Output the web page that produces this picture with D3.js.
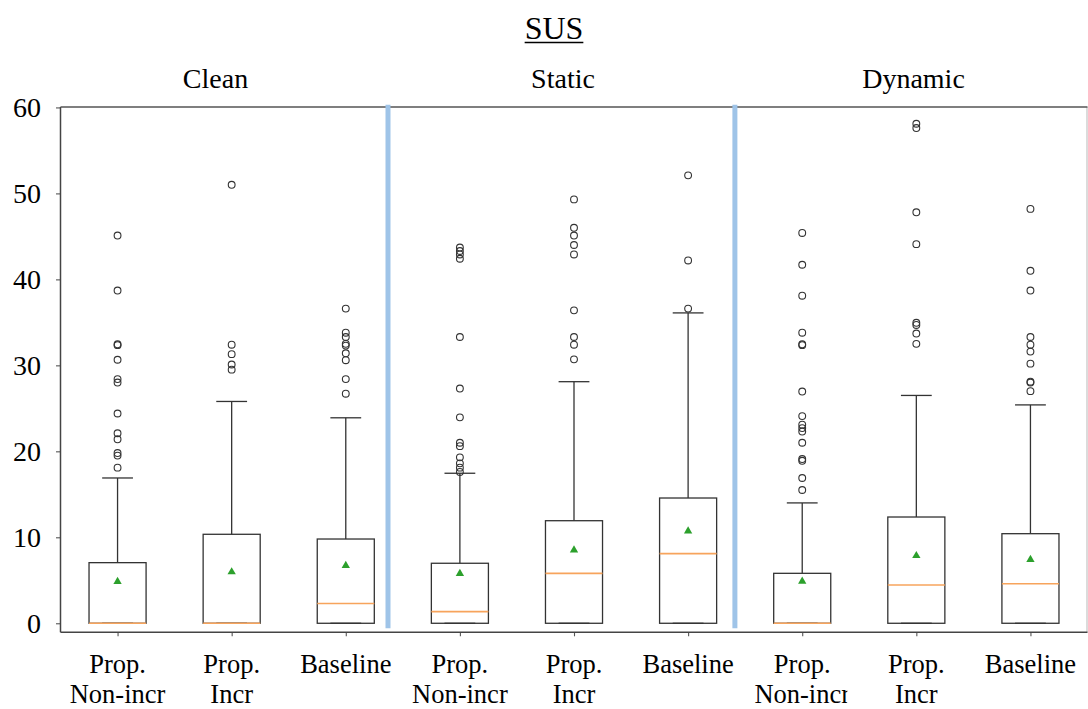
<!DOCTYPE html>
<html>
<head>
<meta charset="utf-8">
<script src="https://cdn.jsdelivr.net/npm/d3@7"></script>
<style>
  html, body { margin: 0; padding: 0; background: #fff; }
  svg { display: block; }
</style>
</head>
<body>
<svg id="chart" width="1088" height="709"></svg>
<script>
// ---- data -------------------------------------------------------------
const title = "SUS";
const groups = ["Clean", "Static", "Dynamic"];
const methods = [["Prop.", "Non-incr"], ["Prop.", "Incr"], ["Baseline"]];
const yTicks = [0, 10, 20, 30, 40, 50, 60];

// one entry per box: Clean x3, Static x3, Dynamic x3
const q1 = [0, 0, 0, 0, 0, 0, 0, 0, 0];
const medians = [0, 0, 2.3, 1.35, 5.8, 8.1, 0, 4.45, 4.6];
const q3 = [7.05, 10.35, 9.8, 6.98, 11.93, 14.57, 5.81, 12.36, 10.42];
const whiskerLow = [0, 0, 0, 0, 0, 0, 0, 0, 0];
const whiskerHigh = [16.9, 25.8, 23.9, 17.45, 28.1, 36.1, 14.0, 26.5, 25.4];
const means = [4.84, 5.97, 6.7, 5.77, 8.52, 10.73, 4.88, 7.86, 7.4];
const outliers = [
  [45.1, 38.7, 32.45, 32.35, 30.65, 28.4, 28.0, 24.4, 22.1, 21.4, 19.8, 19.5, 18.1],
  [51.0, 32.4, 31.3, 30.1, 29.5],
  [36.6, 33.8, 33.3, 32.5, 32.3, 31.4, 30.6, 28.4, 26.7],
  [43.7, 43.3, 42.9, 42.4, 33.3, 27.3, 23.95, 21.0, 20.6, 19.3, 18.6, 18.1, 17.6],
  [49.3, 46.0, 45.1, 44.0, 42.9, 36.4, 33.3, 32.4, 30.7],
  [52.1, 42.2, 36.6],
  [45.4, 41.7, 38.1, 33.8, 32.45, 32.35, 26.95, 24.1, 23.1, 22.7, 22.3, 21.0, 19.1, 18.9, 16.9, 15.5],
  [58.1, 57.6, 47.8, 44.1, 34.95, 34.7, 33.7, 32.5],
  [48.2, 41.0, 38.7, 33.3, 32.4, 31.6, 30.2, 28.1, 28.0, 27.0]
];
// group separators, in box-position units
const groupDividers = [3.37, 6.41];

// ---- layout -----------------------------------------------------------
const FONT = '"Liberation Serif", "Times New Roman", serif';
const svg = d3.select("#chart").style("font-family", FONT);
const plot = { left: 60.5, right: 1087.5, top: 107, bottom: 632.3 };

const x = d3.scaleLinear().domain([0.5, 9.5]).range([plot.left, plot.right]);
const y = d3.scaleLinear().domain([-1.05, 60.05]).range([plot.bottom, plot.top]);
const step = x(2) - x(1);
const boxW = step * 0.5;
const capW = step * 0.27;

const boxes = d3.range(9).map(i => ({
  pos: i + 1, q1: q1[i], med: medians[i], q3: q3[i],
  lo: whiskerLow[i], hi: whiskerHigh[i], mean: means[i], out: outliers[i],
  label: methods[i % 3]
}));

const stroke = "#333";

// frame: dark top/left/bottom, light right edge
svg.append("line").attr("x1", plot.right - 0.5).attr("x2", plot.right - 0.5)
  .attr("y1", plot.top).attr("y2", plot.bottom)
  .attr("stroke", "#c4c4c4").attr("stroke-width", 1.2);
svg.append("line").attr("x1", plot.left).attr("x2", plot.right)
  .attr("y1", plot.top).attr("y2", plot.top)
  .attr("stroke", "#555").attr("stroke-width", 1.4);

// y axis
const yAxis = svg.append("g")
  .attr("transform", `translate(${plot.left},0)`)
  .call(d3.axisLeft(y).tickValues(yTicks).tickSize(4.5).tickPadding(15));
yAxis.select(".domain").remove();
yAxis.selectAll(".tick line").attr("stroke", "#555").attr("stroke-width", 1.1);
yAxis.selectAll(".tick text")
  .style("font-family", FONT)
  .style("font-size", "28px").attr("fill", "#000").attr("dy", "0.33em");

// x axis ticks
const xAxis = svg.append("g")
  .attr("transform", `translate(0,${plot.bottom})`)
  .call(d3.axisBottom(x).tickValues(boxes.map(b => b.pos)).tickSize(4).tickFormat(""));
xAxis.select(".domain").remove();
xAxis.selectAll(".tick line").attr("stroke", "#555").attr("stroke-width", 1.1);

// spines
svg.append("line").attr("x1", plot.left).attr("x2", plot.left)
  .attr("y1", plot.top).attr("y2", plot.bottom)
  .attr("stroke", "#444").attr("stroke-width", 1.5);
svg.append("line").attr("x1", plot.left).attr("x2", plot.right)
  .attr("y1", plot.bottom).attr("y2", plot.bottom)
  .attr("stroke", "#444").attr("stroke-width", 1.5);

// category labels under each box (Dynamic's first label is cut at its panel edge)
const defs = svg.append("defs");
defs.append("clipPath").attr("id", "cut-label")
  .append("rect")
  .attr("x", x(7) - step).attr("y", plot.bottom)
  .attr("width", step + step * 0.395).attr("height", 100);

const labelG = svg.append("g");
boxes.forEach(b => {
  const t = labelG.append("text")
    .attr("text-anchor", "middle")
    .style("font-family", FONT)
    .style("font-size", "26.5px")
    .attr("x", x(b.pos))
    .attr("y", 673);
  if (b.pos === 7) t.attr("clip-path", "url(#cut-label)");
  b.label.forEach((line, k) => {
    t.append("tspan").attr("x", x(b.pos)).attr("y", 673 + k * 30).text(line);
  });
});

// boxes
const g = svg.append("g");
const bx = g.selectAll("g.box").data(boxes).join("g").attr("class", "box");

// whiskers
bx.append("line")
  .attr("x1", d => x(d.pos)).attr("x2", d => x(d.pos))
  .attr("y1", d => y(d.q3)).attr("y2", d => y(d.hi))
  .attr("stroke", stroke).attr("stroke-width", 1.3);
bx.append("line")
  .attr("x1", d => x(d.pos) - capW / 2).attr("x2", d => x(d.pos) + capW / 2)
  .attr("y1", d => y(d.hi)).attr("y2", d => y(d.hi))
  .attr("stroke", stroke).attr("stroke-width", 1.3);
bx.append("line")
  .attr("x1", d => x(d.pos) - capW / 2).attr("x2", d => x(d.pos) + capW / 2)
  .attr("y1", d => y(d.lo)).attr("y2", d => y(d.lo))
  .attr("stroke", stroke).attr("stroke-width", 1.3);

// box body
bx.append("rect")
  .attr("x", d => x(d.pos) - boxW / 2)
  .attr("width", boxW)
  .attr("y", d => y(d.q3))
  .attr("height", d => y(d.q1) - y(d.q3))
  .attr("fill", "none").attr("stroke", stroke).attr("stroke-width", 1.3);

// median
bx.append("line")
  .attr("x1", d => x(d.pos) - boxW / 2).attr("x2", d => x(d.pos) + boxW / 2)
  .attr("y1", d => y(d.med)).attr("y2", d => y(d.med))
  .attr("stroke", "#f7a45c").attr("stroke-width", 1.6);

// mean marker
const tri = d3.symbol().type(d3.symbolTriangle).size(30);
bx.append("path")
  .attr("d", tri)
  .attr("transform", d => `translate(${x(d.pos)},${y(d.mean)})`)
  .attr("fill", "#2ca02c");

// fliers
bx.selectAll("circle").data(d => d.out.map(v => ({ pos: d.pos, v })))
  .join("circle")
  .attr("cx", d => x(d.pos)).attr("cy", d => y(d.v))
  .attr("r", 3.4)
  .attr("fill", "none").attr("stroke", "#333").attr("stroke-width", 1.1);

// group separators
svg.selectAll("line.divider").data(groupDividers).join("line")
  .attr("class", "divider")
  .attr("x1", d => x(d)).attr("x2", d => x(d))
  .attr("y1", 104.7).attr("y2", 628.3)
  .attr("stroke", "#9fc4e8").attr("stroke-width", 5);

// group titles
const groupCenters = [215.5, 563, 913.5];
svg.selectAll("text.group").data(groups).join("text")
  .attr("class", "group")
  .attr("x", (d, i) => groupCenters[i]).attr("y", 88)
  .attr("text-anchor", "middle")
  .style("font-family", FONT).style("font-size", "28px")
  .text(d => d);

// chart title, underlined
const tt = svg.append("text")
  .attr("x", 554).attr("y", 39)
  .attr("text-anchor", "middle")
  .style("font-family", FONT).style("font-size", "32px")
  .text(title);
const tb = tt.node().getBBox();
svg.append("line")
  .attr("x1", tb.x).attr("x2", tb.x + tb.width)
  .attr("y1", 42.5).attr("y2", 42.5)
  .attr("stroke", "#000").attr("stroke-width", 1.6);
</script>
</body>
</html>
